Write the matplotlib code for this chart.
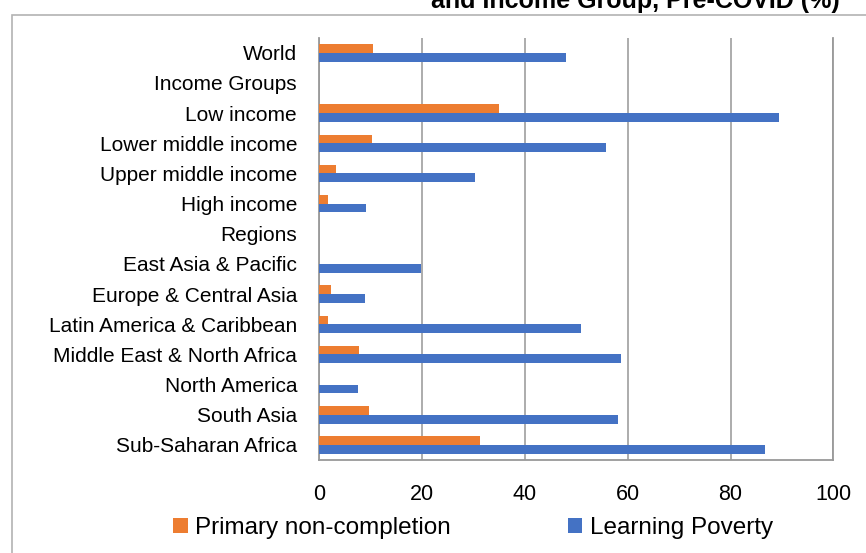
import numpy as np
import matplotlib
matplotlib.use("Agg")
import matplotlib.pyplot as plt
from matplotlib.patches import Rectangle

plt.rcParams['font.family'] = ['Liberation Sans', 'DejaVu Sans']

categories = ['World', 'Income Groups', 'Low income', 'Lower middle income',
              'Upper middle income', 'High income', 'Regions',
              'East Asia & Pacific', 'Europe & Central Asia',
              'Latin America & Caribbean', 'Middle East & North Africa',
              'North America', 'South Asia', 'Sub-Saharan Africa']
non_completion = [10.5, np.nan, 35.0, 10.3, 3.2, 1.7, np.nan,
                  np.nan, 2.2, 1.7, 7.7, np.nan, 9.6, 31.2]
learning_poverty = [48.0, np.nan, 89.5, 55.8, 30.3, 9.1, np.nan,
                    19.8, 8.8, 50.9, 58.7, 7.6, 58.2, 86.7]
xticks = [0, 20, 40, 60, 80, 100]

orange = '#ED7D31'
blue = '#4472C4'
grid_c = '#a6a6a6'

W, H = 866, 553
fig = plt.figure(figsize=(W / 100, H / 100), dpi=100)
ax = fig.add_axes([319.3 / W, 1 - 460 / H, (833.3 - 319.3) / W, (460 - 37.7) / H])

y = np.arange(len(categories))
bh = 0.29
ax.barh(y - bh / 2, non_completion, height=bh, color=orange,
        label='Primary non-completion', zorder=3)
ax.barh(y + bh / 2, learning_poverty, height=bh, color=blue,
        label='Learning Poverty', zorder=3)

ax.set_ylim(len(categories) - 0.5, -0.5)
ax.set_xlim(0, 100)
ax.set_xticks(xticks)
ax.set_xticklabels([str(t) for t in xticks], fontsize=15.5)
ax.set_yticks(y)
ax.set_yticklabels(categories, fontsize=15)
ax.tick_params(axis='x', length=0, pad=17)
ax.tick_params(axis='y', length=0, pad=16)

ax.grid(axis='x', color=grid_c, linewidth=1.3, zorder=0)
ax.spines['top'].set_visible(False)
for s in ['left', 'bottom', 'right']:
    ax.spines[s].set_color('#999999')
    ax.spines[s].set_linewidth(1.3)

# outer chart border (extends past the image on right and bottom)
fig.add_artist(Rectangle((12 / W, -0.2), 1.2, 1 - 15 / H + 0.2,
                         transform=fig.transFigure, fill=False,
                         edgecolor='#b3b3b3', linewidth=1.2))

# title, only the second line is visible in the cropped picture
fig.text(635 / W, 1 - 8 / H, 'and Income Group, Pre-COVID (%)',
         ha='center', va='baseline', fontsize=18, fontweight='bold')

fig.legend(loc='center', bbox_to_anchor=(473 / W, 1 - 528 / H), ncol=2,
           frameon=False, fontsize=17.5, handlelength=0.6, handleheight=0.6,
           handletextpad=0.3, columnspacing=4.8, borderpad=0)

fig.savefig('out.png', dpi=100)
